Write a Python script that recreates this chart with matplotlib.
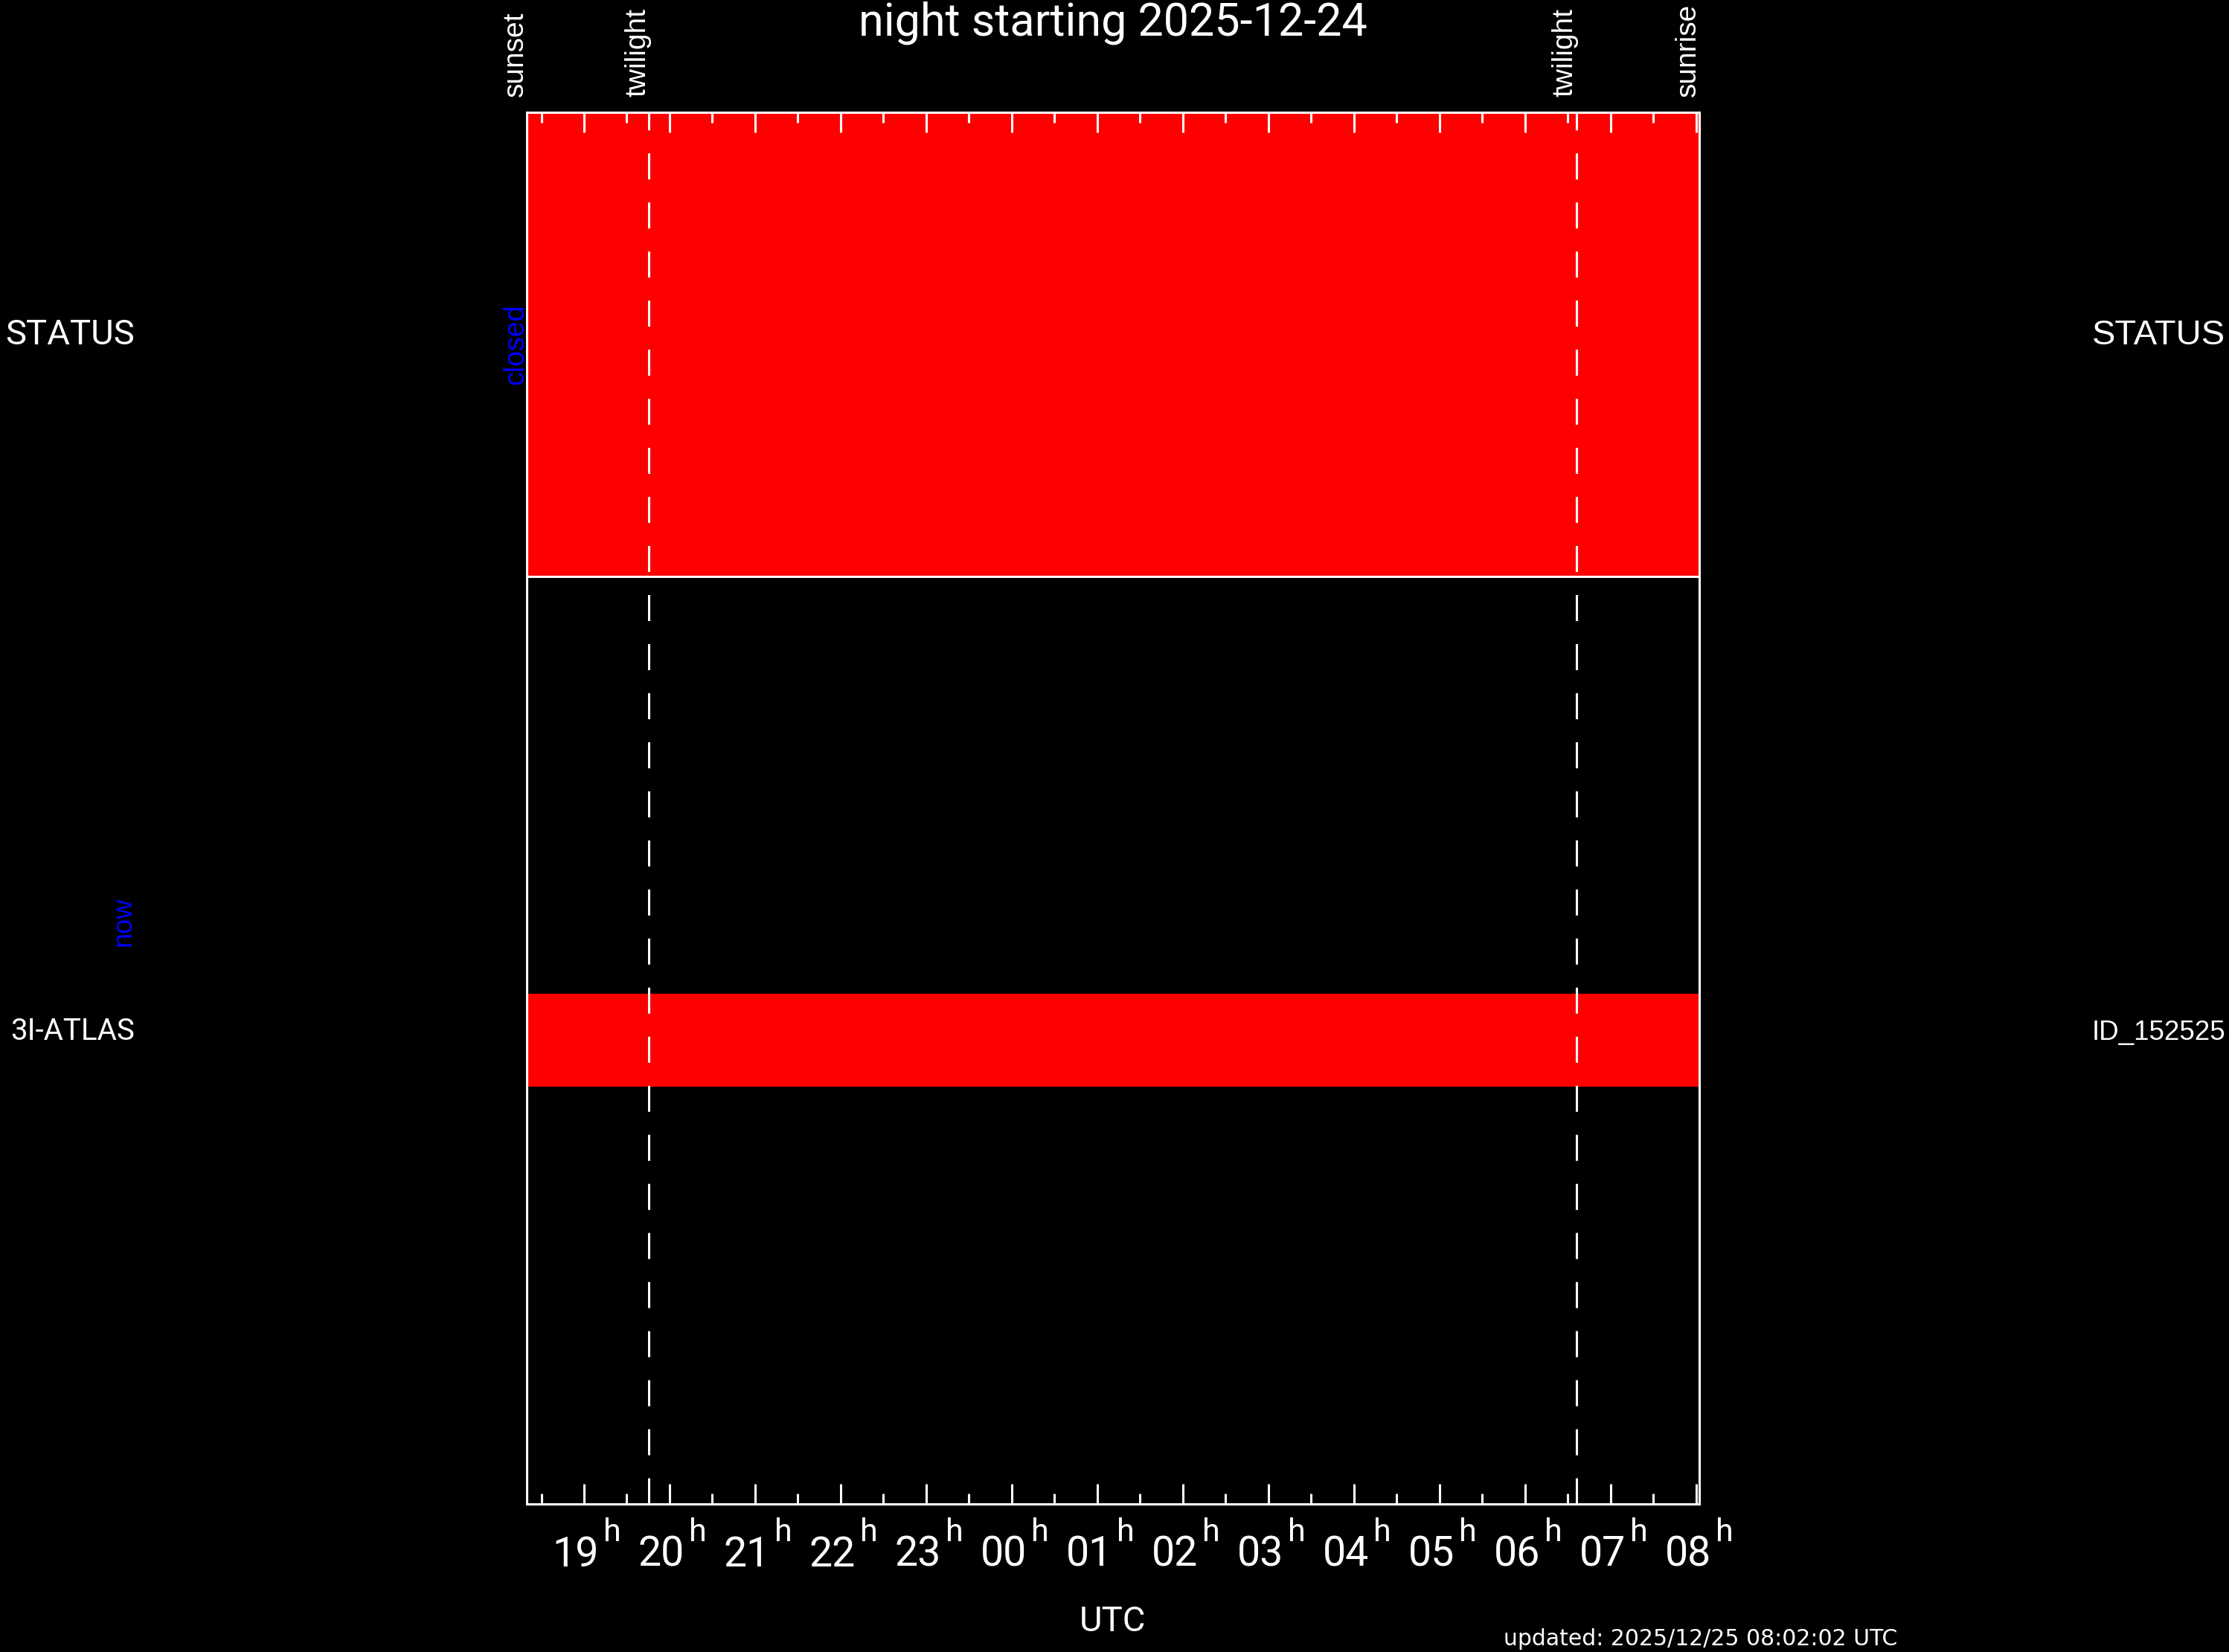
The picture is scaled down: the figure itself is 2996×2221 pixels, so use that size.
import numpy as np
import matplotlib
matplotlib.use('Agg')
import matplotlib.pyplot as plt
from matplotlib.transforms import blended_transform_factory, ScaledTranslation

plt.rcParams['font.family'] = ['Liberation Sans', 'DejaVu Sans']
plt.rcParams['lines.scale_dashes'] = False

# night of 2025-12-24, times in hours after midnight of the 24th (UTC)
title = 'night starting 2025-12-24'
updated = 'updated: 2025/12/25 08:02:02 UTC'
sunset = 18.33
sunrise = 32.035
twilight_eve = 19.757
twilight_morn = 30.60
events = [sunset, twilight_eve, twilight_morn, sunrise]
event_labels = ['sunset', 'twilight', 'twilight', 'sunrise']

hours = [19, 20, 21, 22, 23, 24, 25, 26, 27, 28, 29, 30, 31, 32]
hour_labels = ['19', '20', '21', '22', '23', '00', '01', '02', '03', '04', '05', '06', '07', '08']

# status row (top panel)
status_label = 'STATUS'
status_text = 'closed'
status_start = [18.33]
status_end = [32.035]

# targets (bottom panel)
targets = ['3I-ATLAS']
target_ids = ['ID_152525']
target_start = [18.33]
target_end = [32.035]
target_rows = [1.0]
now_label = 'now'

hershey = dict(family=['Roboto', 'Liberation Sans'], weight='normal')

fig = plt.figure(figsize=(29.96, 22.21), dpi=100, facecolor='black')
ax = fig.add_axes([0.2363, 0.0896, 0.5260, 0.8424], facecolor='black')
ax.set_xlim(sunset, sunrise)
ax.set_ylim(0, 3)

# bars
for s, e in zip(status_start, status_end):
    ax.barh(2.5, e - s, left=s, height=1.0, color='#ff0000', linewidth=0)
for y, s, e in zip(target_rows, target_start, target_end):
    ax.barh(y, e - s, left=s, height=0.2, color='#ff0000', linewidth=0)

ax.axhline(2, color='white', lw=2.2, zorder=3)

# twilight lines
for t in [twilight_eve, twilight_morn]:
    ax.axvline(t, color='white', lw=2.2, dashes=(25.2, 22.3), zorder=3)

# event labels above the frame
for t, lab in zip(events, event_labels):
    ax.annotate(lab, xy=(t, 1), xycoords=('data', 'axes fraction'),
                xytext=(3, 21), textcoords='offset pixels', rotation=90,
                ha='right', va='bottom', color='white', fontsize=28)

# axis styling
for sp in ax.spines.values():
    sp.set_color('white')
    sp.set_linewidth(2.2)
ax.set_yticks([])
ax.set_xticks(hours)
ax.set_xticks(np.arange(18.5, 32.5, 1), minor=True)
ax.tick_params(axis='x', which='both', direction='in', top=True, bottom=True,
               colors='white', width=2.2, pad=30)
ax.tick_params(axis='x', which='major', length=19.4)
ax.tick_params(axis='x', which='minor', length=10)
ax.set_xticklabels(hour_labels, color='white', fontsize=40, ha='right', **hershey)
shift = ScaledTranslation(20 / 100, 0, fig.dpi_scale_trans)
for tick in ax.xaxis.get_major_ticks():
    tick.label1.set_transform(tick.label1.get_transform() + shift)

# superscript hour marks
for hr in hours:
    ax.annotate('h', xy=(hr, 0), xycoords=('data', 'axes fraction'),
                xytext=(26, -50), textcoords='offset pixels', ha='left', va='baseline',
                color='white', fontsize=31, **hershey)

ax.set_xlabel('UTC', color='white', fontsize=34, **hershey)
ax.xaxis.set_label_coords(0.5, -0.0914)
ax.xaxis.label.set_va('baseline')

ax.set_title(title, color='white', fontsize=44, y=1.0556, pad=0, va='baseline', **hershey)

# row labels
tr = blended_transform_factory(fig.transFigure, ax.transData)
ax.text(0.0604, 2.5, status_label, transform=tr, ha='right', va='baseline', color='white', fontsize=34, **hershey)
ax.text(0.9386, 2.5, status_label, transform=tr, ha='left', va='baseline', color='white', fontsize=34)
for y, name, tid in zip(target_rows, targets, target_ids):
    ax.text(0.0604, y, name, transform=tr, ha='right', va='baseline', color='white', fontsize=29, **hershey)
    ax.text(0.9386, y, tid, transform=tr, ha='left', va='baseline', color='white', fontsize=26.5)

ax.annotate(status_text, xy=(0, 2.5), xycoords=('axes fraction', 'data'),
            xytext=(3, 0), textcoords='offset pixels', rotation=90,
            ha='right', va='center', color='#0000ff', fontsize=27)
ax.text(0.0554, 1.255, now_label, transform=tr, rotation=90, ha='center', va='center',
        color='#0000ff', fontsize=26)

fig.text(0.6746, 0.00405, updated, ha='left', va='baseline', color='white',
         fontsize=21.5, family='DejaVu Sans')

fig.savefig('out.png', dpi=100, facecolor='black')
